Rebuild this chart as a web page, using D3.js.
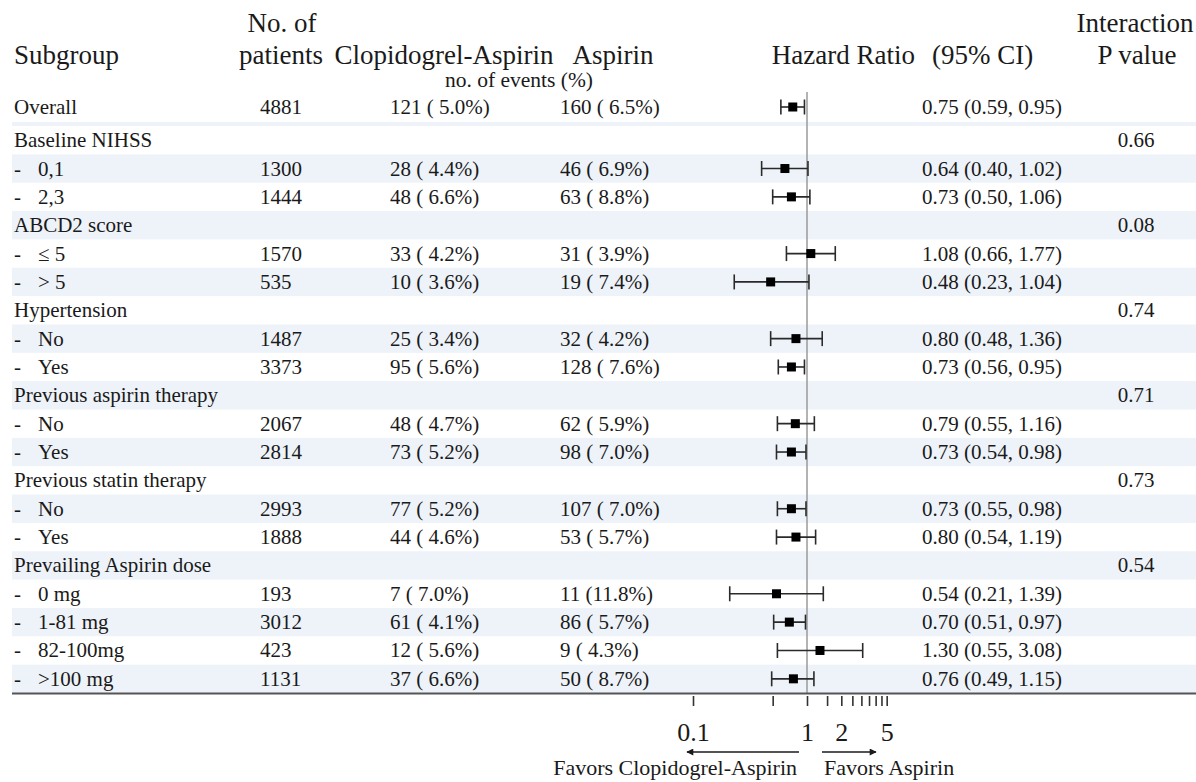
<!DOCTYPE html>
<html>
<head>
<meta charset="utf-8">
<script src="https://cdn.jsdelivr.net/npm/d3@7"></script>
<style>
  body { margin: 0; background: #fff; }
  text { font-family: "Liberation Serif", "Times New Roman", serif; fill: #1a1a1a; white-space: pre; }
</style>
</head>
<body>
<div id="chart"></div>
<script>
'use strict';

// Table rows (first one is the overall estimate, "group" rows have no numbers)
const labels = ["Overall", "Baseline NIHSS", "0,1", "2,3", "ABCD2 score", "\u2264 5", "> 5",
  "Hypertension", "No", "Yes", "Previous aspirin therapy", "No", "Yes",
  "Previous statin therapy", "No", "Yes", "Prevailing Aspirin dose",
  "0 mg", "1-81 mg", "82-100mg", ">100 mg"];
const isGroup = [false, true, false, false, true, false, false, true, false, false, true,
  false, false, true, false, false, true, false, false, false, false];
const patients = [4881, null, 1300, 1444, null, 1570, 535, null, 1487, 3373, null, 2067, 2814,
  null, 2993, 1888, null, 193, 3012, 423, 1131];
const clopEvents = [121, null, 28, 48, null, 33, 10, null, 25, 95, null, 48, 73, null, 77, 44, null, 7, 61, 12, 37];
const clopPct = [5.0, null, 4.4, 6.6, null, 4.2, 3.6, null, 3.4, 5.6, null, 4.7, 5.2, null, 5.2, 4.6, null, 7.0, 4.1, 5.6, 6.6];
const aspEvents = [160, null, 46, 63, null, 31, 19, null, 32, 128, null, 62, 98, null, 107, 53, null, 11, 86, 9, 50];
const aspPct = [6.5, null, 6.9, 8.8, null, 3.9, 7.4, null, 4.2, 7.6, null, 5.9, 7.0, null, 7.0, 5.7, null, 11.8, 5.7, 4.3, 8.7];
const hr = [0.75, null, 0.64, 0.73, null, 1.08, 0.48, null, 0.80, 0.73, null, 0.79, 0.73, null, 0.73, 0.80, null, 0.54, 0.70, 1.30, 0.76];
const lo = [0.59, null, 0.40, 0.50, null, 0.66, 0.23, null, 0.48, 0.56, null, 0.55, 0.54, null, 0.55, 0.54, null, 0.21, 0.51, 0.55, 0.49];
const hi = [0.95, null, 1.02, 1.06, null, 1.77, 1.04, null, 1.36, 0.95, null, 1.16, 0.98, null, 0.98, 1.19, null, 1.39, 0.97, 3.08, 1.15];
const pValues = ["", "0.66", "", "", "0.08", "", "", "0.74", "", "", "0.71", "", "", "0.73", "", "", "0.54", "", "", "", ""];

// Axis ticks
const tickValues = [0.1, 0.5, 1, 1.5, 2, 2.5, 3, 3.5, 4, 4.5, 5];
const tickLabels = {0.1: "0.1", 1: "1", 2: "2", 5: "5"};

const width = 1196;
const height = 782;
const font = "Liberation Serif, Times New Roman, serif";

const svg = d3.select("#chart").append("svg")
    .attr("width", width)
    .attr("height", height);

const x = d3.scaleLog().domain([0.1, 5]).range([693, 807 + 114 * Math.log10(5)]);

// rows after "Overall" sit in equal bands, the overall row sits a little higher
const y = d3.scaleBand().domain(d3.range(1, labels.length)).range([126, 693]);
const rowY = i => i === 0 ? 107 : y(i) + y.bandwidth() / 2;

const rows = labels.map((label, i) => ({i, label}));

// light stripes
svg.append("rect").attr("x", 12).attr("y", 122).attr("width", width - 12).attr("height", 4).attr("fill", "#eef3f9");
svg.selectAll("rect.band")
  .data(rows.filter(d => d.i > 0 && d.i % 2 === 0))
  .enter().append("rect")
    .attr("class", "band")
    .attr("x", 12)
    .attr("y", d => y(d.i))
    .attr("width", width - 12)
    .attr("height", y.bandwidth())
    .attr("fill", "#eef3f9");

// Header
const head = svg.append("g").attr("font-size", 27);
head.append("text").attr("x", 14).attr("y", 64).text("Subgroup");
head.append("text").attr("x", 282).attr("y", 32).attr("text-anchor", "middle").text("No. of");
head.append("text").attr("x", 281).attr("y", 64).attr("text-anchor", "middle").text("patients");
head.append("text").attr("x", 444).attr("y", 64).attr("text-anchor", "middle").text("Clopidogrel-Aspirin");
head.append("text").attr("x", 613).attr("y", 64).attr("text-anchor", "middle").text("Aspirin");
head.append("text").attr("x", 915).attr("y", 64).attr("text-anchor", "end").text("Hazard Ratio");
head.append("text").attr("x", 932).attr("y", 64).text("(95% CI)");
head.append("text").attr("x", 1135).attr("y", 32).attr("text-anchor", "middle").text("Interaction");
head.append("text").attr("x", 1137).attr("y", 64).attr("text-anchor", "middle").text("P value");
svg.append("text").attr("x", 519).attr("y", 87).attr("font-size", 21.5).attr("text-anchor", "middle").text("no. of events (%)");

// Row text
const fmtPct = p => (p < 10 ? " " : "") + p.toFixed(1) + "%";
const fmtHr = v => v.toFixed(2);
const body = svg.append("g").attr("font-size", 21);
const rowG = body.selectAll("g.row")
  .data(rows)
  .enter().append("g")
    .attr("class", "row")
    .attr("transform", d => `translate(0,${rowY(d.i) + 7})`);

rowG.filter(d => d.i === 0 || isGroup[d.i]).append("text").attr("x", 14).text(d => d.label);
rowG.filter(d => d.i > 0 && !isGroup[d.i]).append("text").attr("x", 14).text("-");
rowG.filter(d => d.i > 0 && !isGroup[d.i]).append("text").attr("x", 38).text(d => d.label);

const dataRows = rowG.filter(d => patients[d.i] !== null);
dataRows.append("text").attr("x", 260).text(d => patients[d.i]);
dataRows.append("text").attr("x", 390).text(d => `${clopEvents[d.i]} (${fmtPct(clopPct[d.i])})`);
dataRows.append("text").attr("x", 560).text(d => `${aspEvents[d.i]} (${fmtPct(aspPct[d.i])})`);
dataRows.append("text").attr("x", 922).text(d => `${fmtHr(hr[d.i])} (${fmtHr(lo[d.i])}, ${fmtHr(hi[d.i])})`);
rowG.filter(d => pValues[d.i] !== "").append("text").attr("x", 1136).attr("text-anchor", "middle").text(d => pValues[d.i]);

// reference line at HR = 1
svg.append("line")
    .attr("x1", x(1)).attr("x2", x(1))
    .attr("y1", 92).attr("y2", 693)
    .attr("stroke", "#9a9a9a").attr("stroke-width", 1.5);

// forest marks
const marks = svg.selectAll("g.mark")
  .data(rows.filter(d => hr[d.i] !== null))
  .enter().append("g")
    .attr("class", "mark")
    .attr("transform", d => `translate(0,${rowY(d.i)})`);

marks.append("line")
    .attr("x1", d => x(lo[d.i])).attr("x2", d => x(hi[d.i]))
    .attr("stroke", "#2a2a2a").attr("stroke-width", 1.6);
marks.append("line")
    .attr("x1", d => x(lo[d.i])).attr("x2", d => x(lo[d.i]))
    .attr("y1", -7.5).attr("y2", 7.5)
    .attr("stroke", "#2a2a2a").attr("stroke-width", 1.6);
marks.append("line")
    .attr("x1", d => x(hi[d.i])).attr("x2", d => x(hi[d.i]))
    .attr("y1", -7.5).attr("y2", 7.5)
    .attr("stroke", "#2a2a2a").attr("stroke-width", 1.6);
marks.append("rect")
    .attr("x", d => x(hr[d.i]) - 4.5).attr("y", -4.5)
    .attr("width", 9).attr("height", 9)
    .attr("fill", "#000");

// bottom rule
svg.append("line")
    .attr("x1", 12).attr("x2", width)
    .attr("y1", 693.5).attr("y2", 693.5)
    .attr("stroke", "#555").attr("stroke-width", 2);

// axis
const axis = svg.append("g")
    .attr("transform", "translate(0,696)")
    .call(d3.axisBottom(x)
      .tickValues(tickValues)
      .tickSize(10)
      .tickFormat(d => tickLabels[d] || ""));
axis.select(".domain").remove();
axis.selectAll(".tick line").attr("stroke", "#333").attr("stroke-width", 1.6);
axis.selectAll(".tick text")
    .attr("font-family", font)
    .attr("font-size", 26)
    .attr("fill", "#1a1a1a")
    .attr("dy", null)
    .attr("y", 45);

// direction arrows
const defs = svg.append("defs");
defs.append("marker")
    .attr("id", "arrow")
    .attr("viewBox", "0 0 10 10")
    .attr("refX", 9).attr("refY", 5)
    .attr("markerWidth", 11).attr("markerHeight", 7)
    .attr("markerUnits", "userSpaceOnUse")
    .attr("orient", "auto")
  .append("path").attr("d", "M0,0L10,5L0,10Z").attr("fill", "#1a1a1a");

svg.append("line")
    .attr("x1", 799).attr("x2", 687).attr("y1", 752).attr("y2", 752)
    .attr("stroke", "#1a1a1a").attr("stroke-width", 1.5)
    .attr("marker-end", "url(#arrow)");
svg.append("line")
    .attr("x1", 822).attr("x2", 876).attr("y1", 752).attr("y2", 752)
    .attr("stroke", "#1a1a1a").attr("stroke-width", 1.5)
    .attr("marker-end", "url(#arrow)");
svg.append("text").attr("x", 797).attr("y", 775).attr("font-size", 22).attr("text-anchor", "end").text("Favors Clopidogrel-Aspirin");
svg.append("text").attr("x", 824).attr("y", 775).attr("font-size", 22).text("Favors Aspirin");
</script>
</body>
</html>
